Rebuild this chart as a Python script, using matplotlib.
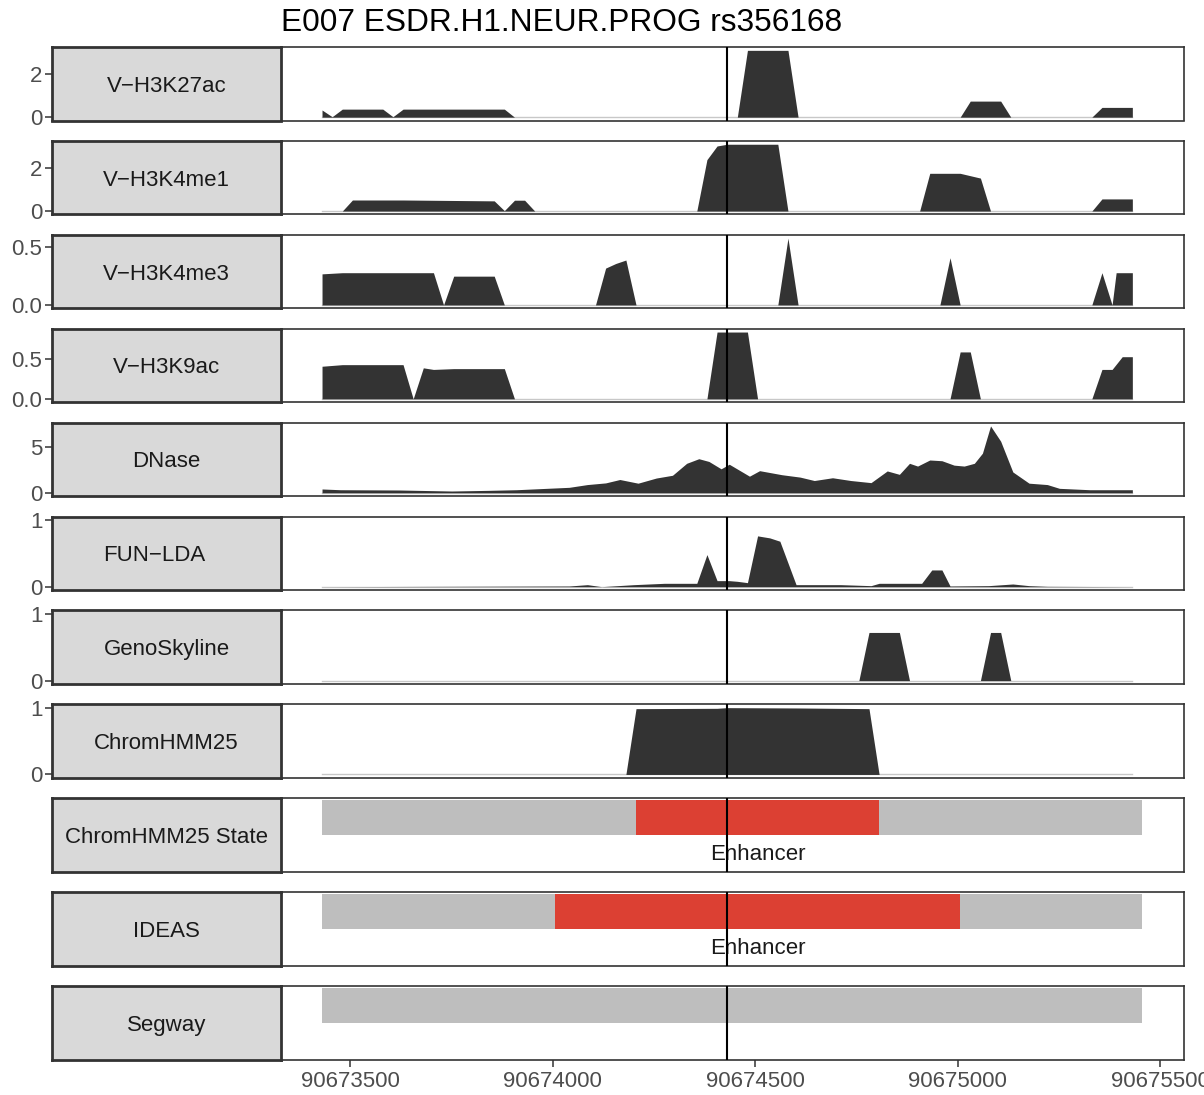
import matplotlib.pyplot as plt
import numpy as np

plt.rcParams['font.family'] = ['Liberation Sans', 'DejaVu Sans']

title = 'E007 ESDR.H1.NEUR.PROG rs356168'
snp_pos = 90674431

# signal tracks: positions are bp relative to the SNP
k27ac_pos = [-1000, -975, -950, -850, -825, -800, -550, -525, 25, 50, 150, 175, 575, 600, 675, 700, 900, 925, 1000]
k27ac_val = [0.33, 0.02, 0.37, 0.37, 0.02, 0.37, 0.37, 0, 0, 3.08, 3.08, 0, 0, 0.74, 0.74, 0, 0, 0.45, 0.45]

k4me1_pos = [-1000, -950, -925, -800, -575, -550, -525, -500, -475, -75, -50, -25, 0, 125, 150,
             475, 500, 575, 625, 650, 900, 925, 1000]
k4me1_val = [0, 0, 0.51, 0.51, 0.47, 0.02, 0.5, 0.5, 0, 0, 2.37, 3.0, 3.08, 3.08, 0,
             0, 1.74, 1.74, 1.52, 0, 0, 0.56, 0.56]

k4me3_pos = [-1000, -950, -775, -725, -700, -675, -575, -550, -325, -300, -275, -250, -225,
             125, 150, 175, 525, 550, 575, 900, 925, 950, 960, 1000]
k4me3_val = [0.27, 0.28, 0.28, 0.28, 0, 0.25, 0.25, 0, 0, 0.32, 0.36, 0.39, 0,
             0, 0.58, 0, 0, 0.41, 0, 0, 0.28, 0, 0.28, 0.28]

k9ac_pos = [-1000, -950, -800, -775, -750, -725, -675, -550, -525, -50, -25, 50, 75,
            550, 575, 600, 625, 900, 925, 950, 975, 1000]
k9ac_val = [0.41, 0.43, 0.43, 0, 0.39, 0.37, 0.38, 0.38, 0, 0, 0.84, 0.84, 0,
            0, 0.59, 0.59, 0, 0, 0.37, 0.37, 0.53, 0.53]

dnase_pos = [-1000, -955, -810, -680, -590, -520, -445, -390, -345, -300, -265, -220, -175, -135, -100,
             -70, -45, -15, 5, 55, 80, 135, 180, 215, 260, 305, 355, 395, 425, 450,
             470, 500, 530, 560, 585, 610, 630, 650, 675, 705, 745, 790, 820, 895, 1000]
dnase_val = [0.41, 0.33, 0.30, 0.19, 0.26, 0.33, 0.48, 0.59, 0.89, 1.07, 1.44, 1.04, 1.6, 1.9, 3.2,
             3.7, 3.4, 2.6, 3.1, 1.8, 2.4, 1.96, 1.7, 1.33, 1.63, 1.33, 1.1, 2.37, 2.0, 3.2,
             2.9, 3.56, 3.48, 3.0, 2.9, 3.2, 4.3, 7.26, 5.6, 2.26, 1.04, 0.89, 0.48, 0.33, 0.33]

funlda_pos = [-1000, -390, -345, -310, -230, -155, -75, -50, -25, 5, 25, 50, 75, 105, 130,
              170, 280, 355, 375, 480, 505, 530, 550, 645, 705, 745, 790, 1000]
funlda_val = [0, 0.01, 0.03, 0.0, 0.03, 0.05, 0.05, 0.48, 0.09, 0.09, 0.08, 0.06, 0.76, 0.73, 0.68,
              0.03, 0.03, 0.015, 0.05, 0.05, 0.25, 0.25, 0.01, 0.015, 0.04, 0.015, 0.005, 0]

geno_pos = [-1000, 325, 350, 425, 450, 625, 650, 675, 700, 1000]
geno_val = [0, 0, 0.72, 0.72, 0, 0, 0.72, 0.72, 0, 0]

chromhmm_pos = [-1000, -250, -225, -25, 0, 175, 350, 375, 1000]
chromhmm_val = [0, 0, 0.985, 0.99, 1.0, 0.995, 0.985, 0, 0]

track_names = ['V\u2212H3K27ac', 'V\u2212H3K4me1', 'V\u2212H3K4me3', 'V\u2212H3K9ac',
               'DNase', 'FUN\u2212LDA', 'GenoSkyline', 'ChromHMM25']
track_pos = [k27ac_pos, k4me1_pos, k4me3_pos, k9ac_pos, dnase_pos, funlda_pos, geno_pos, chromhmm_pos]
track_val = [k27ac_val, k4me1_val, k4me3_val, k9ac_val, dnase_val, funlda_val, geno_val, chromhmm_val]
track_ticks = [[0, 2], [0, 2], [0.0, 0.5], [0.0, 0.5], [0, 5], [0, 1], [0, 1], [0, 1]]
track_tick_labels = [['0', '2'], ['0', '2'], ['0.0', '0.5'], ['0.0', '0.5'],
                     ['0', '5'], ['0', '1'], ['0', '1'], ['0', '1']]
track_fixed_max = [None, None, None, None, None, 1, 1, 1]

# segmentations: start/end relative to the SNP
state_names = ['ChromHMM25 State', 'IDEAS', 'Segway']
chromhmm_state_start = [-1000, -225, 375]
chromhmm_state_end = [-225, 375, 1025]
chromhmm_state_label = ['Other', 'Enhancer', 'Other']
ideas_state_start = [-1000, -425, 575]
ideas_state_end = [-425, 575, 1025]
ideas_state_label = ['Other', 'Enhancer', 'Other']
segway_state_start = [-1000]
segway_state_end = [1025]
segway_state_label = ['Other']

state_start = [chromhmm_state_start, ideas_state_start, segway_state_start]
state_end = [chromhmm_state_end, ideas_state_end, segway_state_end]
state_label = [chromhmm_state_label, ideas_state_label, segway_state_label]
state_colors = {'Enhancer': '#DC4033', 'Other': '#BEBEBE'}

x_ticks = [90673500, 90674000, 90674500, 90675000, 90675500]

W, H = 1204, 1095
fig = plt.figure(figsize=(W / 100, H / 100), dpi=100)

DARK = '#333333'
TEXT = '#1A1A1A'
TICK_TEXT = '#4D4D4D'
FS = 16

x_start = snp_pos - 1000
x_end = snp_pos + 1025
x_pad = 0.05 * (x_end - x_start)


def px_rect(x0, y0, x1, y1):
    return [x0 / W, 1 - y1 / H, (x1 - x0) / W, (y1 - y0) / H]


strip_nudge = {'FUN\u2212LDA': -9}


def make_row(i, name):
    top = 47 + 93.9 * i
    bottom = top + 73.5
    ax = fig.add_axes(px_rect(281, top, 1183.5, bottom))
    sax = fig.add_axes(px_rect(52, top, 281, bottom))
    for spine in ax.spines.values():
        spine.set_color(DARK)
        spine.set_linewidth(1.2)
    for spine in sax.spines.values():
        spine.set_color(DARK)
        spine.set_linewidth(2.0)
    ax.set_xlim(x_start - x_pad, x_end + x_pad)
    ax.tick_params(left=False, labelleft=False, bottom=False, labelbottom=False)
    sax.set_facecolor('#D9D9D9')
    sax.set_xticks([])
    sax.tick_params(axis='y', length=5, width=1.1, color=DARK, labelcolor=TICK_TEXT,
                    labelsize=FS, pad=2)
    label_x = 0.5 + strip_nudge.get(name, 0) / 72 * 100 / 229
    sax.text(label_x, 0.5, name, transform=sax.transAxes, ha='center', va='center_baseline',
             fontsize=FS, color=TEXT)
    ax.axvline(snp_pos, color='black', lw=1.5, zorder=5)
    return ax, sax


for i, name in enumerate(track_names):
    ax, sax = make_row(i, name)
    x = snp_pos + np.array(track_pos[i])
    v = np.array(track_val[i])
    ax.plot([x[0], x[-1]], [0, 0], color='#C8C8C8', lw=1.0, zorder=1)
    ax.fill_between(x, 0, v, color=DARK, linewidth=0, zorder=2)
    top = track_fixed_max[i] if track_fixed_max[i] is not None else v.max()
    ylim = (-0.05 * top, top * 1.05)
    ax.set_ylim(ylim)
    sax.set_ylim(ylim)
    sax.set_yticks(track_ticks[i])
    sax.set_yticklabels(track_tick_labels[i])

for j, name in enumerate(state_names):
    ax, sax = make_row(len(track_names) + j, name)
    sax.set_yticks([])
    ax.set_ylim(-1.05, 1.05)
    starts = snp_pos + np.array(state_start[j])
    ends = snp_pos + np.array(state_end[j])
    for s, e, lab in zip(starts, ends, state_label[j]):
        ax.barh(0.5, e - s, left=s, height=1, color=state_colors[lab], linewidth=0, zorder=2)
        if lab == 'Enhancer':
            ax.text((s + e) / 2, -0.5, lab, ha='center', va='center_baseline', fontsize=FS,
                    color=TEXT, zorder=4)
    if j == len(state_names) - 1:
        ax.set_xticks(x_ticks)
        ax.set_xticklabels([str(t) for t in x_ticks])
        ax.tick_params(bottom=True, labelbottom=True, length=5, width=1.1, color=DARK,
                       labelcolor=TICK_TEXT, labelsize=FS, pad=3)

fig.text(281 / W, 1 - 31 / H, title, ha='left', va='baseline', fontsize=22.8, color='black')

fig.savefig('out.png', dpi=100, facecolor='white')
